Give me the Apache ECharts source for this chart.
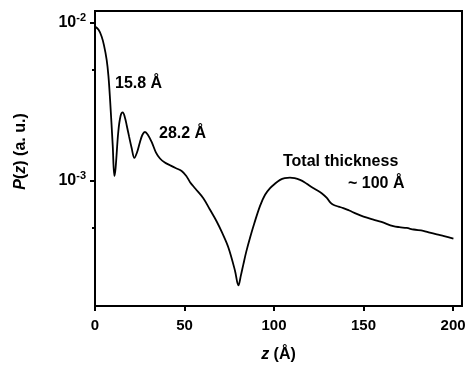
<!DOCTYPE html>
<html>
<head>
<meta charset="utf-8">
<script src="https://cdn.jsdelivr.net/npm/echarts@6/dist/echarts.min.js"></script>
<style>
html,body{margin:0;padding:0;background:#fff;}
#c{width:469px;height:368px;}
</style>
</head>
<body>
<div id="c"></div>
<script>
// z (Å)
const zValues = [0, 2, 3.7, 5, 6.5, 7.5, 8.4, 9.9, 10.8, 11.5, 13, 14.3, 15.5, 16.7, 17.7, 19, 20.5, 22, 23.5, 25.1, 26.5, 27.9, 29.5, 31.7, 34, 36.3, 39, 41.9, 45, 48.4, 51, 53.1, 56, 60.5, 64, 67.9, 71, 74.5, 78.2, 80.1, 81.5, 82.9, 84.5, 86.6, 89, 92.2, 95, 97.8, 100.5, 103.4, 106, 108.9, 111.5, 114.5, 117, 120.1, 123, 126.6, 129.5, 131.5, 133.1, 136, 138.7, 142, 146.2, 150, 155.5, 160, 166.6, 170, 174.1, 178, 183.4, 187, 190.9, 195, 200.2];
// P(z) (a.u.)
const pValues = [9.44e-3, 9.0e-3, 8.17e-3, 7.2e-3, 5.83e-3, 4.6e-3, 3.28e-3, 1.67e-3, 1.07e-3, 1.20e-3, 2.03e-3, 2.57e-3, 2.70e-3, 2.51e-3, 2.24e-3, 1.91e-3, 1.60e-3, 1.39e-3, 1.51e-3, 1.75e-3, 1.95e-3, 2.03e-3, 1.95e-3, 1.75e-3, 1.51e-3, 1.38e-3, 1.30e-3, 1.25e-3, 1.20e-3, 1.15e-3, 1.07e-3, 9.77e-4, 8.91e-4, 7.74e-4, 6.61e-4, 5.53e-4, 4.68e-4, 3.77e-4, 2.69e-4, 2.17e-4, 2.51e-4, 2.96e-4, 3.55e-4, 4.35e-4, 5.37e-4, 6.92e-4, 8.13e-4, 8.95e-4, 9.55e-4, 1.01e-3, 1.035e-3, 1.045e-3, 1.035e-3, 1.01e-3, 9.77e-4, 9.23e-4, 8.81e-4, 8.32e-4, 7.76e-4, 7.24e-4, 7.03e-4, 6.84e-4, 6.70e-4, 6.46e-4, 6.15e-4, 5.92e-4, 5.66e-4, 5.47e-4, 5.15e-4, 5.07e-4, 5.01e-4, 4.90e-4, 4.81e-4, 4.68e-4, 4.56e-4, 4.45e-4, 4.29e-4];
const xTicks = [0, 50, 100, 150, 200];
const yMajorTicks = [1e-3, 1e-2];
const yMinorTicks = [5e-4, 5e-3];
const annotations = ['15.8 Å', '28.2 Å', 'Total thickness', '~ 100 Å'];

const FONT = '"Liberation Sans", Arial, sans-serif';
const seriesData = zValues.map((z, i) => [z, pValues[i]]);

const chart = echarts.init(document.getElementById('c'), null, {renderer: 'canvas'});
const yMin = 1.607e-4, yMax = 1.184e-2;

chart.setOption({
  animation: false,
  backgroundColor: '#fff',
  grid: {left: 95, right: 7, top: 11, bottom: 59, show: true, borderColor: '#000', borderWidth: 2, backgroundColor: 'transparent'},
  xAxis: {
    type: 'value', min: 0, max: 205, interval: 50,
    axisLine: {show: true, lineStyle: {color: '#000', width: 2}},
    axisTick: {show: true, length: 5, inside: false, lineStyle: {color: '#000', width: 2}, customValues: xTicks},
    axisLabel: {color: '#000', fontFamily: FONT, fontWeight: 'bold', fontSize: 15, margin: 12, customValues: xTicks},
    splitLine: {show: false},
    name: '{i|z} (Å)', nameLocation: 'middle', nameGap: 41,
    nameTextStyle: {color: '#000', fontFamily: FONT, fontWeight: 'bold', fontSize: 16,
      rich: {i: {fontStyle: 'italic', fontWeight: 'bold', fontFamily: FONT, fontSize: 16, color: '#000'}}}
  },
  yAxis: [{
    type: 'log', logBase: 10, min: yMin, max: yMax,
    axisLine: {show: true, lineStyle: {color: '#000', width: 2}},
    axisTick: {show: true, length: 5, lineStyle: {color: '#000', width: 2}, customValues: yMajorTicks},
    axisLabel: {
      color: '#000', fontFamily: FONT, fontWeight: 'bold', fontSize: 16, margin: 9,
      customValues: yMajorTicks,
      formatter: function (v) {
        const e = Math.round(Math.log10(v));
        return '{b|10}{s|' + e + '}';
      },
      rich: {
        b: {fontFamily: FONT, fontWeight: 'bold', fontSize: 16, color: '#000'},
        s: {fontFamily: FONT, fontWeight: 'bold', fontSize: 11, color: '#000', padding: [0, 0, 10, 0]}
      }
    },
    splitLine: {show: false},
    minorTick: {show: false},
    name: '{i|P}({i|z}) (a. u.)', nameLocation: 'middle', nameGap: 66,
    nameTextStyle: {color: '#000', fontFamily: FONT, fontWeight: 'bold', fontSize: 16, padding: [0, 0, 0, 14],
      rich: {i: {fontStyle: 'italic', fontWeight: 'bold', fontFamily: FONT, fontSize: 16, color: '#000'}}}
  }, {
    type: 'log', logBase: 10, min: yMin, max: yMax, position: 'left',
    axisLine: {show: false},
    axisTick: {show: true, length: 3, lineStyle: {color: '#000', width: 2}, customValues: yMinorTicks},
    axisLabel: {show: false},
    splitLine: {show: false}
  }],
  series: [{
    type: 'line', data: seriesData, yAxisIndex: 0, showSymbol: false, smooth: 0.35,
    lineStyle: {color: '#000', width: 1.8}, silent: true
  }],
  graphic: [
    {type: 'text', left: 115, top: 76, style: {text: annotations[0], font: 'bold 16px ' + FONT, fill: '#000'}},
    {type: 'text', left: 159, top: 126, style: {text: annotations[1], font: 'bold 16px ' + FONT, fill: '#000'}},
    {type: 'text', left: 283, top: 154, style: {text: annotations[2], font: 'bold 16px ' + FONT, fill: '#000'}},
    {type: 'text', left: 348, top: 176, style: {text: annotations[3], font: 'bold 16px ' + FONT, fill: '#000'}}
  ]
});
</script>
</body>
</html>
